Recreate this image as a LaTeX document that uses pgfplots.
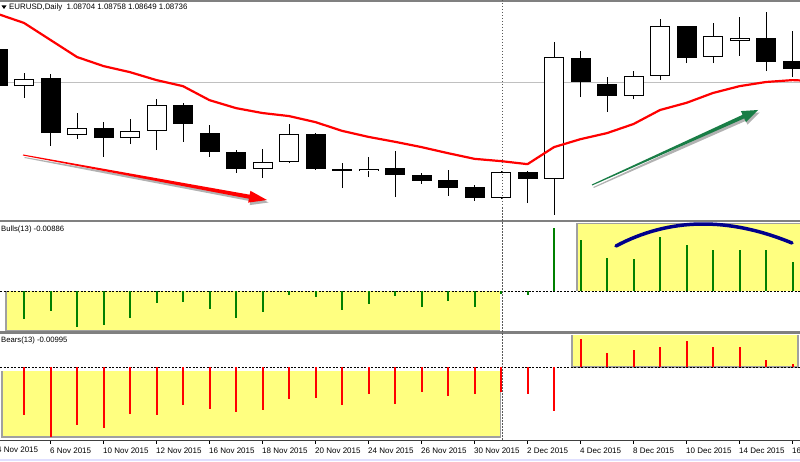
\documentclass[border=0pt]{standalone}
\usepackage{pgfplots}
\pgfplotsset{compat=1.18}
\usepackage{pgfplotstable}
\usepackage{fontspec}
\setmainfont{Liberation Sans}
\definecolor{bullgreen}{RGB}{0,128,0}
\definecolor{hiyellow}{RGB}{255,255,128}
\definecolor{shadowgray}{RGB}{160,160,160}
\definecolor{sepgray}{RGB}{128,128,128}
\definecolor{bidgray}{RGB}{192,192,192}
\definecolor{arrowgreen}{RGB}{25,125,70}
\definecolor{arcblue}{RGB}{0,0,140}

% bearish (black) candles: bar index, open, high, low, close
\pgfplotstableread{
x  O      H      L      C
-1 1.0962 1.0973 1.0854 1.0864
1  1.0886 1.0896 1.0706 1.0740
3  1.0754 1.0769 1.0677 1.0727
6  1.0814 1.0820 1.0717 1.0764
7  1.0740 1.0761 1.0677 1.0690
8  1.0690 1.0695 1.0635 1.0645
11 1.0738 1.0740 1.0643 1.0645
12 1.0645 1.0661 1.0595 1.0640
14 1.0648 1.0693 1.0571 1.0629
15 1.0629 1.0635 1.0606 1.0614
16 1.0616 1.0643 1.0574 1.0595
17 1.0598 1.0603 1.0561 1.0569
19 1.0637 1.0640 1.0555 1.0619
21 1.0938 1.0957 1.0835 1.0875
22 1.0870 1.0888 1.0796 1.0838
25 1.1023 1.1023 1.0925 1.0938
28 1.0991 1.1060 1.0904 1.0928
29 1.0930 1.1010 1.0888 1.0909
}\bearcandles

% bullish (white) candles
\pgfplotstableread{
x  O      H      L      C
0  1.0864 1.0899 1.0833 1.0883
2  1.0735 1.0793 1.0724 1.0754
4  1.0727 1.0777 1.0711 1.0746
5  1.0746 1.0830 1.0695 1.0814
9  1.0645 1.0698 1.0621 1.0664
10 1.0664 1.0764 1.0661 1.0738
13 1.0640 1.0677 1.0624 1.0645
18 1.0569 1.0640 1.0566 1.0637
20 1.0619 1.0981 1.0524 1.0941
23 1.0838 1.0904 1.0830 1.0891
24 1.0891 1.1041 1.0880 1.1023
26 1.0941 1.1031 1.0925 1.0996
27 1.0983 1.1047 1.0944 1.0991
}\bullcandles

\pgfplotsset{
  panel/.style={scale only axis, width=800pt, xmin=-0.9057, xmax=29.283,
    axis line style={draw=none}, ytick=\empty, anchor=south west, clip=true},
  candlebar/.style 2 args={draw=none, mark=none, forget plot,
    error bars/.cd, y dir=plus, y explicit, error mark=none,
    error bar style={draw=#2, solid, line width=#1, line cap=butt}},
}

\begin{document}
\begin{tikzpicture}[x=1pt,y=1pt]
\useasboundingbox (0,0) rectangle (800,461);
\clip (0,0) rectangle (800,461);
\fill[white] (0,0) rectangle (800,461);

% background annotations: highlight boxes
\fill[shadowgray] (5,129) rectangle (500,170);
\fill[hiyellow] (7,131) rectangle (500,170);
\fill[shadowgray] (576,170) rectangle (801,238);
\fill[hiyellow] (578,170) rectangle (801,237);
\fill[shadowgray] (1,23) rectangle (501,90);
\fill[hiyellow] (3,25) rectangle (500,90);
\fill[shadowgray] (571,93) rectangle (799,126);
\fill[hiyellow] (573,95) rectangle (797,126);
% bid line and zero lines
\draw[bidgray, line width=0.8pt] (0,379) -- (800,379);
\draw[black, line width=0.8pt, dash pattern=on 2pt off 1.5pt] (0,170) -- (800,170);
\draw[black, line width=0.8pt, dash pattern=on 2pt off 1.5pt] (0,94) -- (800,94);

% ---------------- price panel ----------------
\begin{axis}[panel, at={(0pt,241pt)}, height=218pt, ymin=1.05105, ymax=1.10863, xtick=\empty]
\addplot[candlebar={1pt}{black}] table[x=x, y=L, y error expr=\thisrow{H}-\thisrow{L}] {\bearcandles};
\addplot[candlebar={1pt}{black}] table[x=x, y=L, y error expr=\thisrow{H}-\thisrow{L}] {\bullcandles};
\addplot[candlebar={20pt}{black}] table[x=x, y=C, y error expr=\thisrow{O}-\thisrow{C}] {\bearcandles};
\addplot[candlebar={20pt}{black}] table[x=x, y=O, y error expr=\thisrow{C}-\thisrow{O}] {\bullcandles};
\addplot[candlebar={18pt}{white}] table[x=x, y expr=\thisrow{O}+0.00026, y error expr=\thisrow{C}-\thisrow{O}-0.00052] {\bullcandles};
\addplot[red, line width=2.2pt, line join=round, mark=none] coordinates {
(-1,1.1055) (0,1.1031) (1,1.0986) (2,1.0941) (3,1.0917) (4,1.0901) (5,1.0880) (6,1.0864)
(7,1.0827) (8,1.0806) (9,1.0793) (10,1.0785) (11,1.0769) (12,1.0746) (13,1.0730) (14,1.0717)
(15,1.0703) (16,1.0687) (17,1.0672) (18,1.0666) (19,1.0658) (20,1.0703) (21,1.0724) (22,1.0740)
(23,1.0764) (24,1.0801) (25,1.0820) (26,1.0846) (27,1.0864) (28,1.0875) (29,1.0880) (30,1.0877)};
\end{axis}

% ---------------- Bulls panel ----------------
\begin{axis}[panel, at={(0pt,130pt)}, height=108pt, ymin=-0.01764, ymax=0.02999, xtick=\empty]
\addplot[ycomb, bullgreen, line width=2pt, mark=none] coordinates {
(0,-0.0124) (1,-0.0088) (2,-0.0159) (3,-0.0150) (4,-0.0119) (5,-0.0053) (6,-0.0049) (7,-0.0079)
(8,-0.0119) (9,-0.0093) (10,-0.0018) (11,-0.0026) (12,-0.0084) (13,-0.0057) (14,-0.0022) (15,-0.0071)
(16,-0.0044) (17,-0.0071) (18,-0.0013) (19,-0.0018) (20,0.0278) (21,0.0225) (22,0.0146) (23,0.0141)
(24,0.0238) (25,0.0203) (26,0.0181) (27,0.0181) (28,0.0181) (29,0.0128)};
\end{axis}

% ---------------- Bears panel ----------------
\begin{axis}[panel, at={(0pt,21pt)}, height=105pt, ymin=-0.029565, ymax=0.01296,
  xtick={1,3,...,29}, xtick pos=left, xticklabel pos=left, tick align=outside,
  major tick length=3.5pt, tick style={black, line width=0.8pt},
  xticklabels={6 Nov 2015,10 Nov 2015,12 Nov 2015,16 Nov 2015,18 Nov 2015,20 Nov 2015,24 Nov 2015,26 Nov 2015,30 Nov 2015,2 Dec 2015,4 Dec 2015,8 Dec 2015,10 Dec 2015,14 Dec 2015,16 Dec 2015},
  xticklabel style={anchor=north west, inner sep=0pt, font=\fontsize{8}{9}\selectfont, xshift=-0.5pt, yshift=-4pt}]
\addplot[ycomb, red, line width=2pt, mark=none] coordinates {
(0,-0.0194) (1,-0.0284) (2,-0.0235) (3,-0.0247) (4,-0.0190) (5,-0.0194) (6,-0.0154) (7,-0.0170)
(8,-0.0182) (9,-0.0174) (10,-0.0130) (11,-0.0126) (12,-0.0154) (13,-0.0109) (14,-0.0150) (15,-0.0101)
(16,-0.0118) (17,-0.0109) (18,-0.0101) (19,-0.0109) (20,-0.0178) (21,0.0113) (22,0.0057) (23,0.0069)
(24,0.0081) (25,0.0105) (26,0.0081) (27,0.0081) (28,0.0028) (29,0.0012)};
\end{axis}

% separators
\draw[sepgray, line width=1.5pt] (0,460.2) -- (800,460.2);
\draw[sepgray, line width=2pt] (0,239.5) -- (800,239.5);
\draw[sepgray, line width=2.5pt] (0,128.3) -- (800,128.3);
\draw[black!75, line width=1pt] (0,20.5) -- (800,20.5);
\fill[blue!12] (0,0) rectangle (800,2.5);

% vertical dotted separator
\draw[black!65, line width=1pt, dash pattern=on 1.5pt off 1.5pt] (502,461) -- (502,20);

% trend arrows
\fill[black, opacity=0.3] (24.6,304) -- (251.2,263.8) -- (251.9,267.7) -- (268.5,258.5) -- (249.7,255.9) -- (250.4,259.8) -- (24.4,303) -- cycle;
\fill[red] (23.1,306.5) -- (249.7,266.3) -- (250.4,270.2) -- (267,261) -- (248.2,258.4) -- (248.9,262.3) -- (22.9,305.5) -- cycle;
\fill[black, opacity=0.3] (593.3,274) -- (744.1,343.7) -- (742.4,347.4) -- (759.5,348.5) -- (747.4,336.4) -- (745.7,340.1) -- (593.7,273) -- cycle;
\fill[arrowgreen] (591.8,276.5) -- (742.6,346.2) -- (740.9,349.9) -- (758,351) -- (745.9,338.9) -- (744.2,342.6) -- (592.2,275.5) -- cycle;

% arc
\draw[arcblue, line width=3.5pt, line cap=round] (616,215) .. controls (669.3,243.3) and (728,244.3) .. (792,218);

% texts
\fill[black] (1.5,455.5) -- (6.5,455.5) -- (4,452) -- cycle;
\node[anchor=west, inner sep=0pt, font=\fontsize{7.9}{9}\selectfont] at (9,453.5) {EURUSD,Daily\ \ 1.08704 1.08758 1.08649 1.08736};
\node[anchor=west, inner sep=0pt, font=\fontsize{7.7}{9}\selectfont] at (1,231) {Bulls(13) -0.00886};
\node[anchor=west, inner sep=0pt, font=\fontsize{7.7}{9}\selectfont] at (1,120) {Bears(13) -0.00995};
\node[anchor=north west, inner sep=0pt, font=\fontsize{8}{9}\selectfont] at (-3,14.5) {4 Nov 2015};
\end{tikzpicture}
\end{document}
